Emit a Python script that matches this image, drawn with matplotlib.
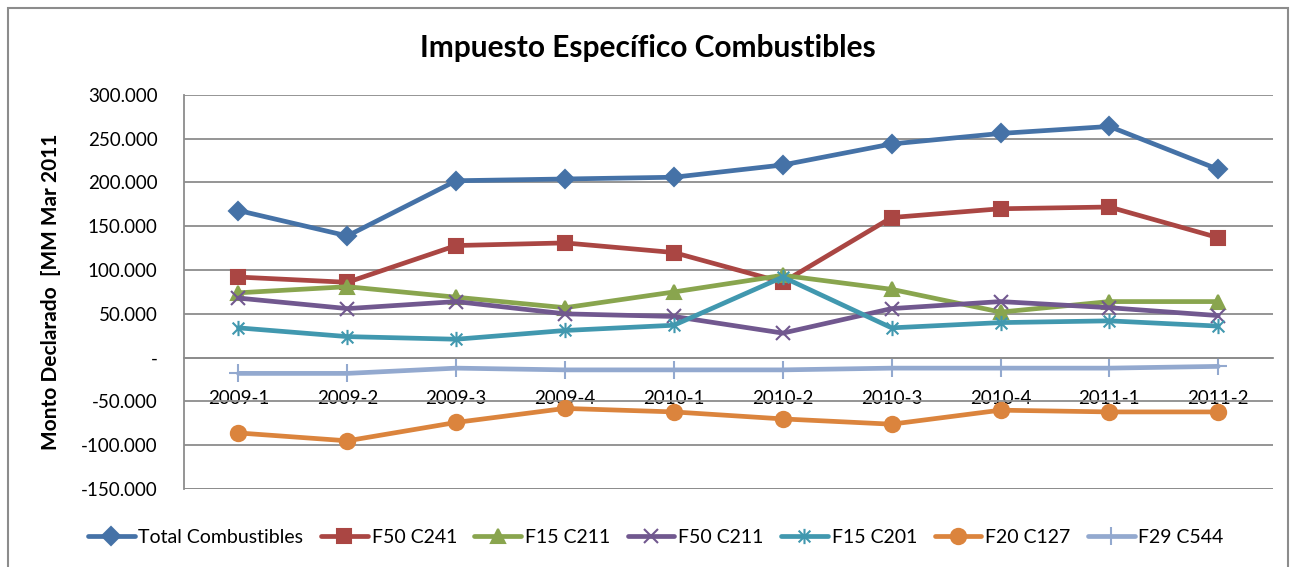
#! /usr/bin/env python3
"""Impuesto Especifico Combustibles, line chart by quarter."""
import matplotlib

matplotlib.use("Agg")
import matplotlib.pyplot as plt
from matplotlib.patches import Rectangle
from matplotlib.path import Path
from matplotlib.ticker import FuncFormatter

plt.rcParams["font.family"] = ["Lato", "DejaVu Sans"]

periods = ["2009-1", "2009-2", "2009-3", "2009-4", "2010-1",
           "2010-2", "2010-3", "2010-4", "2011-1", "2011-2"]
total_combustibles = [168000, 139000, 202000, 204000, 206000,
                      220000, 244000, 256000, 264000, 215000]
f50_c241 = [92000, 86000, 128000, 131000, 120000,
            86000, 160000, 170000, 172000, 137000]
f15_c211 = [74000, 81000, 69000, 57000, 75000,
            94000, 78000, 52000, 64000, 64000]
f50_c211 = [68000, 56000, 64000, 50000, 47000,
            28000, 56000, 64000, 57000, 48000]
f15_c201 = [34000, 24000, 21000, 31000, 37000,
            92000, 34000, 40000, 42000, 36000]
f20_c127 = [-86000, -95000, -74000, -58000, -62000,
            -70000, -76000, -60000, -62000, -62000]
f29_c544 = [-18000, -18000, -12000, -14000, -14000,
            -14000, -12000, -12000, -12000, -10000]

# excel-like asterisk: an x with a vertical bar
asterisk = Path(
    [(-1, -1), (1, 1), (-1, 1), (1, -1), (0, -1.3), (0, 1.3)],
    [Path.MOVETO, Path.LINETO, Path.MOVETO, Path.LINETO, Path.MOVETO, Path.LINETO],
)

series = [
    ("Total Combustibles", total_combustibles, "#4572A7", "D", 9),
    ("F50 C241", f50_c241, "#AA4643", "s", 10),
    ("F15 C211", f15_c211, "#89A54E", "^", 10),
    ("F50 C211", f50_c211, "#71588F", "x", 10),
    ("F15 C201", f15_c201, "#4198AF", asterisk, 11),
    ("F20 C127", f20_c127, "#DB843D", "o", 11),
    ("F29 C544", f29_c544, "#93A9CF", "+", 13),
]

fig = plt.figure(figsize=(12.96, 5.67), dpi=100)
ax = fig.add_axes([0.142, 0.1376, 0.840, 0.695])

x = list(range(len(periods)))
for name, values, color, marker, size in series:
    ax.plot(x, values, color=color, lw=3.4, marker=marker, markersize=size,
            markeredgewidth=1.5, markerfacecolor=color, markeredgecolor=color,
            label=name, solid_joinstyle="round", solid_capstyle="round")

ax.set_xlim(-0.5, len(periods) - 0.5)
ax.set_ylim(-150000, 300000)
ax.set_yticks(range(-150000, 300001, 50000))


def thousands(v, _pos):
    if v == 0:
        return "-"
    return f"{v:,.0f}".replace(",", ".")


ax.yaxis.set_major_formatter(FuncFormatter(thousands))
ax.yaxis.grid(True, color="#8c8c8c", lw=1.3)
ax.set_axisbelow(True)

for side in ["top", "right"]:
    ax.spines[side].set_visible(False)
ax.spines["left"].set_color("#8c8c8c")
ax.spines["left"].set_linewidth(1.3)
ax.spines["bottom"].set_position(("data", 0))
ax.spines["bottom"].set_color("#8c8c8c")
ax.spines["bottom"].set_linewidth(1.3)
ax.axhline(-150000, color="#8c8c8c", lw=1.3, zorder=0.5)

ax.set_xticks(x, periods)
ax.tick_params(axis="x", length=0, pad=23, labelsize=13.5)
ax.tick_params(axis="y", length=0, pad=19, labelsize=13.5)

ax.set_ylabel("Monto Declarado  [MM Mar 2011", fontsize=15,
              fontweight="bold", labelpad=14)
fig.text(0.5, 0.915, "Impuesto Específico Combustibles", ha="center",
         va="center", fontsize=21.5, fontweight="bold")

fig.legend(loc="center", bbox_to_anchor=(0.506, 0.052), ncol=7,
           frameon=False, fontsize=14, handlelength=2.4,
           columnspacing=0.9, handletextpad=0.2)

fig.patches.append(Rectangle((8 / 1296, -0.1), 1280 / 1296, 1 - 8 / 567 + 0.1,
                             transform=fig.transFigure, fill=False,
                             edgecolor="#8c8c8c", lw=1.5))

fig.savefig("out.png", dpi=100)
